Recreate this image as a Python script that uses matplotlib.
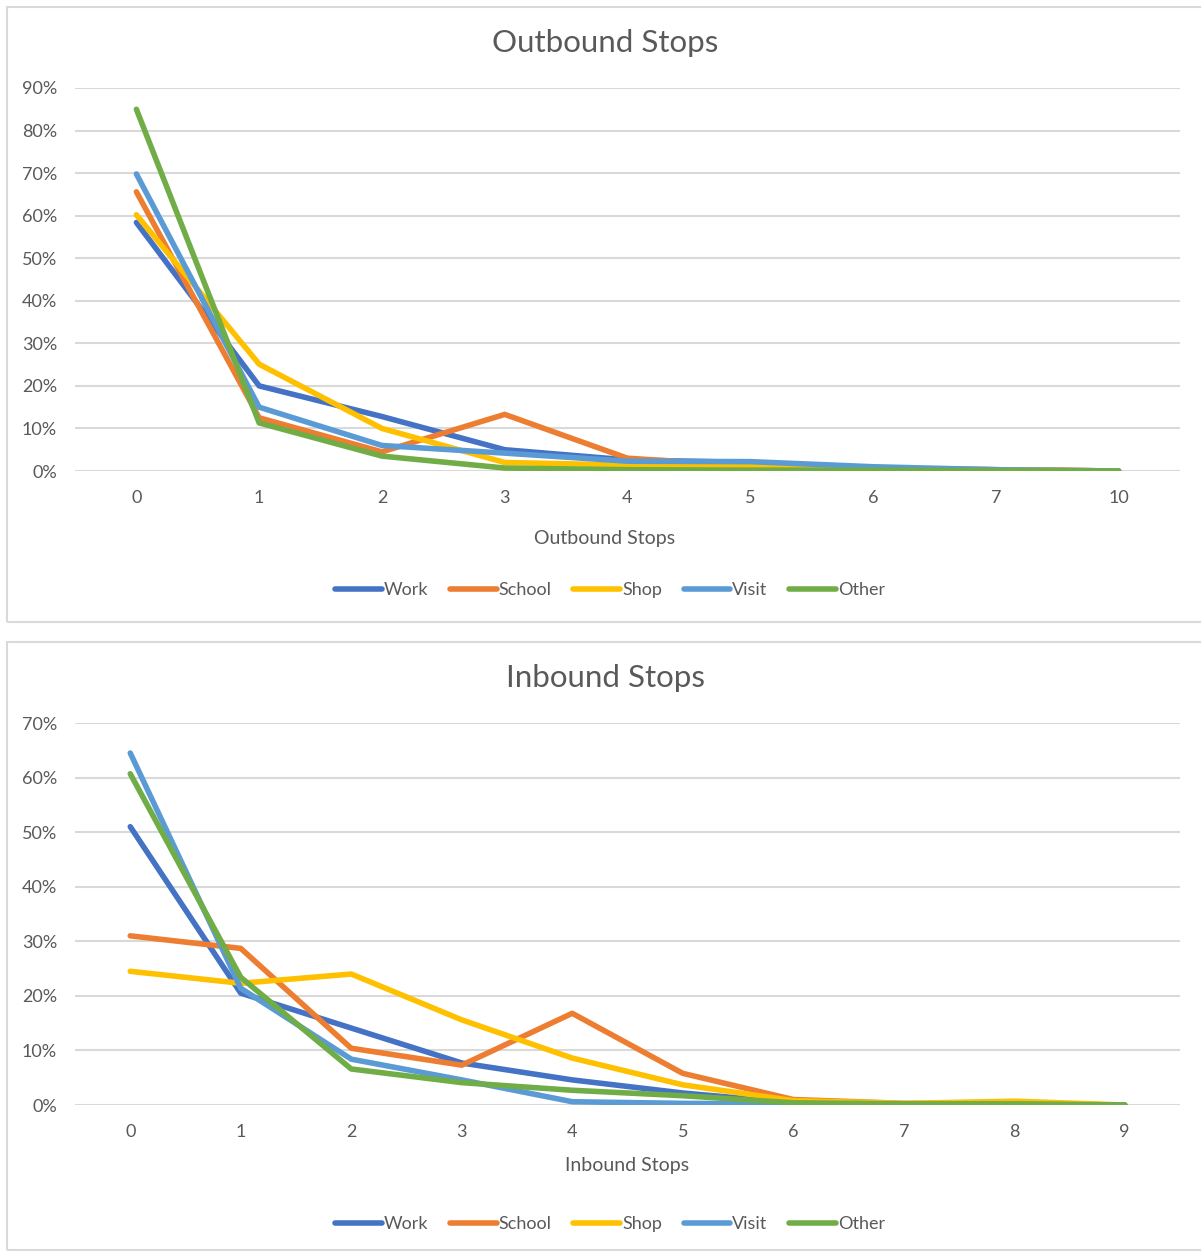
import numpy as np
import matplotlib.pyplot as plt
from matplotlib.patches import Rectangle
from matplotlib.ticker import PercentFormatter

plt.rcParams['font.family'] = ['Lato', 'DejaVu Sans']

series = ['Work', 'School', 'Shop', 'Visit', 'Other']
colors = ['#4472C4', '#ED7D31', '#FFC000', '#5B9BD5', '#70AD47']

# outbound stops share by purpose
out_cats = ['0', '1', '2', '3', '4', '5', '6', '7', '10']
out_work = [58.4, 20.0, 12.8, 5.0, 2.6, 2.0, 0.6, 0.3, 0.0]
out_school = [65.6, 12.5, 4.5, 13.3, 3.0, 1.2, 0.5, 0.3, 0.0]
out_shop = [60.2, 25.1, 10.0, 2.0, 1.4, 1.0, 0.5, 0.3, 0.0]
out_visit = [69.8, 15.0, 6.0, 4.2, 2.3, 2.2, 1.0, 0.3, 0.0]
out_other = [85.0, 11.3, 3.5, 0.7, 0.3, 0.2, 0.2, 0.1, 0.0]

# inbound stops share by purpose
in_cats = ['0', '1', '2', '3', '4', '5', '6', '7', '8', '9']
in_work = [51.0, 20.5, 14.1, 7.7, 4.6, 2.2, 0.4, 0.2, 0.2, 0.0]
in_school = [31.0, 28.7, 10.4, 7.3, 16.8, 5.8, 1.0, 0.3, 0.2, 0.0]
in_shop = [24.5, 22.3, 24.0, 15.6, 8.6, 3.7, 0.8, 0.3, 0.7, 0.0]
in_visit = [64.5, 21.4, 8.4, 4.6, 0.6, 0.3, 0.2, 0.1, 0.1, 0.0]
in_other = [60.7, 23.4, 6.6, 4.1, 2.7, 1.7, 0.4, 0.2, 0.2, 0.0]

W, H = 1201, 1251
fig = plt.figure(figsize=(W / 100, H / 100), dpi=100)

grey = '#595959'
grid = '#D9D9D9'

# panel borders
for y0, y1 in [(7, 622), (642, 1250)]:
    fig.patches.append(Rectangle((7 / W, 1 - y1 / H), (W + 5 - 7) / W, (y1 - y0) / H,
                                 transform=fig.transFigure, fill=False,
                                 edgecolor=grid, linewidth=1.5))


def draw(ax, cats, data, ymax, title, xlabel, title_y, label_y, label_x, leg_y):
    x = np.arange(len(cats))
    for vals, name, c in zip(data, series, colors):
        ax.plot(x, np.array(vals) / 100, color=c, lw=4.0, label=name,
                solid_capstyle='round', solid_joinstyle='round')
    ax.set_xlim(-0.5, len(cats) - 0.5)
    ax.set_ylim(0, ymax)
    ax.set_yticks(np.arange(0, ymax + 0.001, 0.1))
    ax.yaxis.set_major_formatter(PercentFormatter(1.0, decimals=0))
    ax.set_xticks(x)
    ax.set_xticklabels(cats)
    ax.grid(axis='y', color=grid, lw=1.5)
    ax.set_axisbelow(True)
    for s in ax.spines.values():
        s.set_visible(False)
    ax.tick_params(length=0, labelsize=13, colors=grey)
    ax.tick_params(axis='x', pad=14)
    ax.tick_params(axis='y', pad=13)
    fig.text(605 / W, 1 - title_y / H, title, ha='center', va='center',
             fontsize=22.5, color=grey)
    fig.text(label_x / W, 1 - label_y / H, xlabel, ha='center', va='center',
             fontsize=14, color=grey)
    h, l = ax.get_legend_handles_labels()
    fig.legend(h, l, loc='center', bbox_to_anchor=(610 / W, 1 - leg_y / H),
               ncol=5, frameon=False, fontsize=13, handlelength=2.6,
               handletextpad=0.1, columnspacing=1.2, labelcolor=grey)


ax1 = fig.add_axes([75 / W, 1 - 471 / H, 1105 / W, 383 / H])
draw(ax1, out_cats, [out_work, out_school, out_shop, out_visit, out_other], 0.9,
     'Outbound Stops', 'Outbound Stops', 43, 538, 605, 590)

ax2 = fig.add_axes([75 / W, 1 - 1105 / H, 1105 / W, 382 / H])
draw(ax2, in_cats, [in_work, in_school, in_shop, in_visit, in_other], 0.7,
     'Inbound Stops', 'Inbound Stops', 678, 1165, 627, 1224)

fig.savefig('out.png', dpi=100)
